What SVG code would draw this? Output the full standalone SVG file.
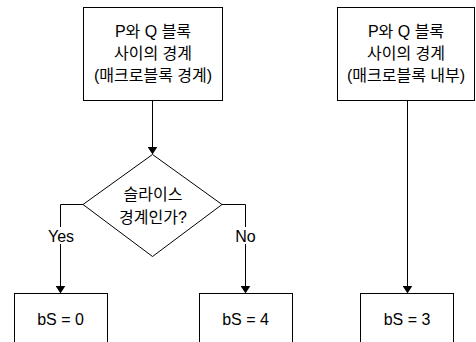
<svg xmlns="http://www.w3.org/2000/svg" width="476" height="342" viewBox="0 0 476 342">
  <defs>
    <marker id="arrow" markerWidth="8" markerHeight="10" refX="8" refY="5" orient="auto" markerUnits="userSpaceOnUse" viewBox="0 0 10 10" preserveAspectRatio="none">
      <path d="M0,0 L10,5 L0,10 Z" fill="#000"/>
    </marker>
  </defs>
  <style>
    .box { fill: #fff; stroke: #000; stroke-width: 1; }
    .link { fill: none; stroke: #000; stroke-width: 1; }
    text { font-family: "Liberation Sans", "Noto Sans CJK KR", sans-serif; font-size: 16px; fill: #000; text-anchor: middle; }
    .lbl { fill: #fff; stroke: none; }
  </style>
  <rect width="476" height="342" fill="#fff"/>

  <g id="connectors">
    <path class="link" d="M152.5,100.5 V153" marker-end="url(#arrow)"/>
    <path class="link" d="M83,204.5 H60.5 V292" marker-end="url(#arrow)"/>
    <path class="link" d="M222,204.5 H245.5 V292" marker-end="url(#arrow)"/>
    <path class="link" d="M407.5,100.5 V292" marker-end="url(#arrow)"/>
    <rect class="lbl" x="45" y="227" width="32" height="17"/>
    <text x="61" y="242">Yes</text>
    <rect class="lbl" x="234" y="227" width="23" height="17"/>
    <text x="245.5" y="242">No</text>
  </g>

  <g id="boundary-mb">
    <rect class="box" x="83.5" y="7.5" width="139" height="93"/>
    <text x="153" y="37">P와 Q 블록</text>
    <text x="153" y="59">사이의 경계</text>
    <text x="153" y="81">(매크로블록 경계)</text>
  </g>

  <g id="slice-check">
    <path class="box" d="M152.5,154.5 L222,204.5 L152.5,256.5 L83,204.5 Z"/>
    <text x="153" y="200">슬라이스</text>
    <text x="153" y="223">경계인가?</text>
  </g>

  <g id="bs0">
    <rect class="box" x="14.5" y="293.5" width="93" height="60"/>
    <text x="60.5" y="325">bS = 0</text>
  </g>

  <g id="bs4">
    <rect class="box" x="199.5" y="293.5" width="93" height="60"/>
    <text x="245.5" y="325">bS = 4</text>
  </g>

  <g id="boundary-inner">
    <rect class="box" x="337.5" y="7.5" width="137" height="93"/>
    <text x="406" y="37">P와 Q 블록</text>
    <text x="406" y="59">사이의 경계</text>
    <text x="406" y="81">(매크로블록 내부)</text>
  </g>

  <g id="bs3">
    <rect class="box" x="360.5" y="293.5" width="93" height="60"/>
    <text x="407" y="325">bS = 3</text>
  </g>
</svg>
